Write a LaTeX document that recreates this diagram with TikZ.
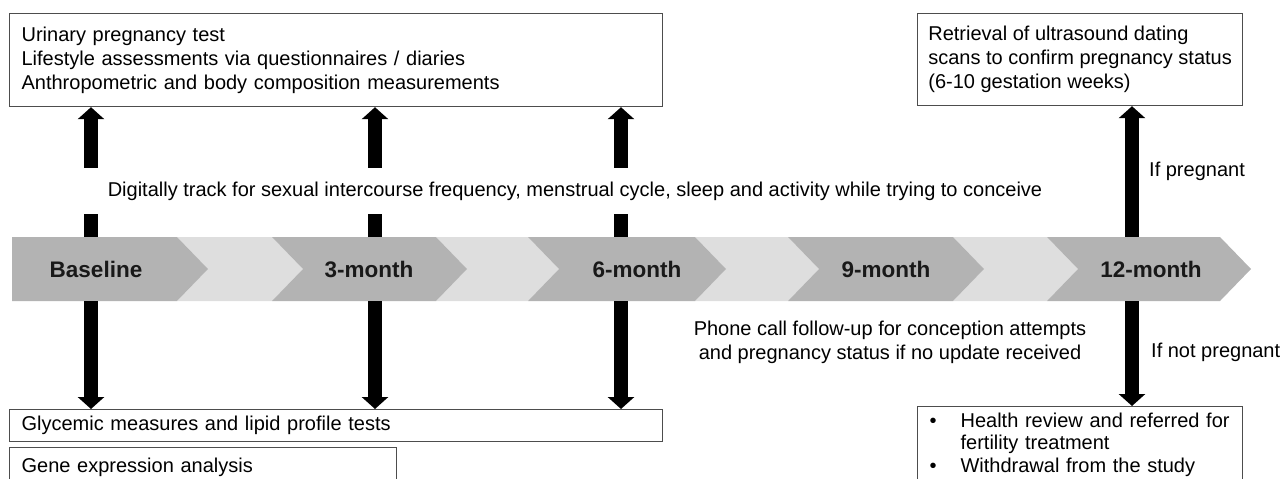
\documentclass[tikz,border=0pt]{standalone}
\usepackage{fontspec}
\setmainfont{Liberation Sans}
\usepackage{xcolor}
\usepackage{tikz}
\usetikzlibrary{arrows.meta, positioning, calc}
\definecolor{stagedark}{HTML}{B3B3B3}
\definecolor{stagelight}{HTML}{DEDEDE}
\definecolor{boxline}{HTML}{4D4D4D}
\tikzset{
  % Timeline styles
  stage/.style={font=\fontsize{22.5}{26}\selectfont\bfseries, text=black!90, inner sep=0pt},
  bigarrow/.style={line width=13.5pt, -{Triangle[width=26pt, length=12pt]}},
  % Box styles
  infobox/.style={rectangle, draw=boxline, line width=1.2pt, fill=white, align=left, inner xsep=12pt, inner ysep=0pt, font=\fontsize{20}{24}\selectfont, anchor=north west},
  note/.style={font=\fontsize{20}{24}\selectfont, inner sep=0pt},
}

\begin{document}
\begin{tikzpicture}[x=1pt, y=-1pt]
    \useasboundingbox (0,0) rectangle (1288,479);

    % Timeline band
    \node[minimum width=1239pt, minimum height=64pt, inner sep=0pt] (band) at (631.5,269) {};
    \foreach \l/\r in {177/272, 436/528, 695/788, 953/1047}
      \fill[stagelight] (\l,237) -- (\r,237) -- (\r+31,269) -- (\r,301) -- (\l,301) -- (\l+31,269) -- cycle;
    \fill[stagedark] (12,237) -- (177,237) -- (208,269) -- (177,301) -- (12,301) -- cycle;
    \foreach \l/\r in {272/436, 528/695, 788/953, 1047/1220}
      \fill[stagedark] (\l,237) -- (\r,237) -- (\r+31,269) -- (\r,301) -- (\l,301) -- (\l+31,269) -- cycle;

    % Stages
    \node[stage] (base) at (96,269) {Baseline};
    \node[stage] (m3) at (369,269) {3-month};
    \node[stage] (m6) at (637,269) {6-month};
    \node[stage] (m9) at (886,269) {9-month};
    \node[stage] (m12) at (1151,269) {12-month};

    % Arrow columns
    \coordinate (c0) at (91,269);
    \coordinate (c3) at (375,269);
    \coordinate (c6) at (621,269);
    \coordinate (c12) at (1132,269);

    % Visit assessments
    \node[infobox, text width=629pt, minimum height=93pt] (visit) at (9,13)
      {Urinary pregnancy test\\Lifestyle assessments via questionnaires / diaries\\Anthropometric and body composition measurements};

    % Dating scans
    \node[infobox, inner xsep=0pt, minimum width=325pt, minimum height=92pt] (scans) at (917,13)
      {Retrieval of ultrasound dating\\scans to confirm pregnancy status\\(6-10 gestation weeks)};

    % Blood tests
    \node[infobox, text width=629pt, minimum height=32pt] (blood) at (9,409) {Glycemic measures and lipid profile tests};

    % Gene expression
    \node[infobox, text width=363pt, minimum height=40pt, below=5pt of blood.south west, anchor=north west] (gene) {Gene expression analysis};

    % Review
    \node[infobox, text width=305pt, inner xsep=10pt, minimum height=76pt, font=\fontsize{20}{22.5}\selectfont] (review) at (917,406)
      {\makebox[33pt][l]{\hspace{2pt}\textbullet}Health review and referred for\\
       \hspace*{33pt}fertility treatment\\
       \makebox[33pt][l]{\hspace{2pt}\textbullet}Withdrawal from the study};

% === Arrows ===
    \draw[bigarrow] (c0 |- band.north) -- (c0 |- visit.south);
    \draw[bigarrow] (c3 |- band.north) -- (c3 |- visit.south);
    \draw[bigarrow] (c6 |- band.north) -- (c6 |- visit.south);
    \draw[bigarrow] (c12 |- band.north) -- (c12 |- scans.south);
    \draw[bigarrow] (c0 |- band.south) -- (c0 |- blood.north);
    \draw[bigarrow] (c3 |- band.south) -- (c3 |- blood.north);
    \draw[bigarrow] (c6 |- band.south) -- (c6 |- blood.north);
    \draw[bigarrow] (c12 |- band.south) -- (c12 |- review.north);

    % Tracking line (covers the shafts)
    \node[note, fill=white, inner xsep=26pt, minimum height=46pt] (track) at (575,191)
      {Digitally track for sexual intercourse frequency, menstrual cycle, sleep and activity while trying to conceive};

    % Branch labels
    \node[note, anchor=west] (yes) at (1149,171) {If pregnant};
    \node[note, anchor=west] (no) at (1151,352) {If not pregnant};
    \node[note, align=center] (phone) at (890,342)
      {Phone call follow-up for conception attempts\\and pregnancy status if no update received};
\end{tikzpicture}
\end{document}
